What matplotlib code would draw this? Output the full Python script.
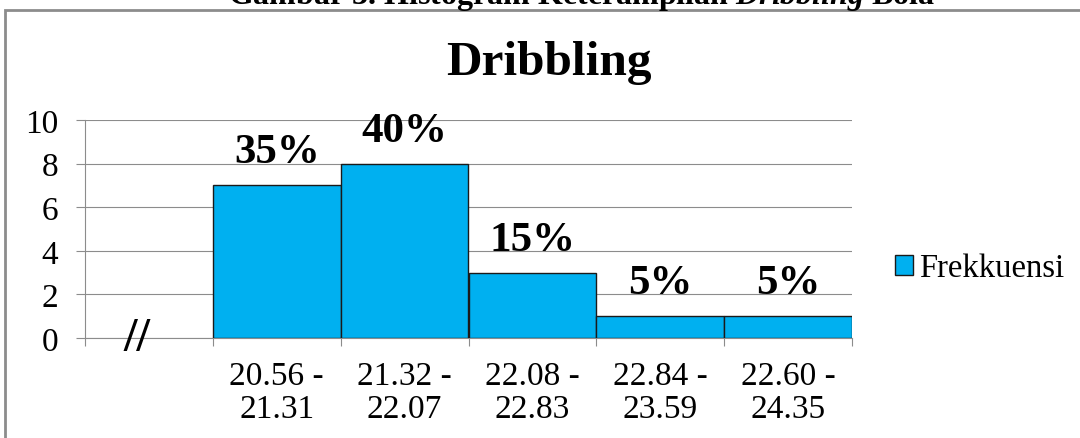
import matplotlib
matplotlib.use("Agg")
import matplotlib.pyplot as plt
import matplotlib.patches as patches
import numpy as np

plt.rcParams['font.family'] = ['Liberation Serif', 'DejaVu Serif']
plt.rcParams['mathtext.fontset'] = 'custom'
plt.rcParams['mathtext.it'] = 'Liberation Serif:bold:italic'
plt.rcParams['mathtext.rm'] = 'Liberation Serif:bold'

# data
categories = ["", "20.56 -\n21.31", "21.32 -\n22.07", "22.08 -\n22.83",
              "22.84 -\n23.59", "22.60 -\n24.35"]
frekuensi = [0, 7, 8, 3, 1, 1]
y_ticks = [0, 2, 4, 6, 8, 10]

bar_color = '#00B0F0'
grid_color = '#8c8c8c'

fig = plt.figure(figsize=(10.8, 4.39), dpi=100)
ax = fig.add_axes([85 / 1080, 1 - 339 / 439, (852 - 85) / 1080, (339 - 121) / 439])

x = np.arange(len(categories))
total = sum(frekuensi)
bars = ax.bar(x[1:], frekuensi[1:], width=1.0, color=bar_color,
              edgecolor='#1a1a1a', linewidth=1, label='Frekkuensi', zorder=3)

for xi, v in zip(x[1:], frekuensi[1:]):
    ax.annotate(f"{round(v / total * 100)}%", (xi, v), xytext=(0, 14),
                textcoords='offset pixels', ha='center', va='bottom',
                fontsize=31, fontweight='bold')

# axis break mark in the empty slot
ax.text(-0.09, 0, "//", ha='center', va='center', fontsize=35,
        fontweight='bold', clip_on=False, zorder=4)

ax.set_xlim(-0.5, len(categories) - 0.5)
ax.set_ylim(0, 10)
ax.set_yticks(y_ticks)
ax.set_yticklabels([str(t) for t in y_ticks], fontsize=24)
ax.set_xticks(x[1:])
ax.set_xticklabels(categories[1:], fontsize=24, linespacing=1.12)
ax.set_xticks(np.arange(-0.5, len(categories)), minor=True)
ax.tick_params(axis='x', which='major', length=0, pad=16)
ax.tick_params(axis='x', which='minor', length=5.8, color=grid_color, width=0.8)
ax.tick_params(axis='y', length=6.5, color=grid_color, width=0.8, pad=13)

ax.grid(axis='y', color=grid_color, linewidth=0.8, zorder=0)
for s in ['top', 'right']:
    ax.spines[s].set_visible(False)
for s in ['left', 'bottom']:
    ax.spines[s].set_color(grid_color)
    ax.spines[s].set_linewidth(0.8)

ax.set_title("Dribbling", fontsize=35.5, fontweight='bold', pad=0,
             x=(549 - 85) / (852 - 85), y=1 + (121 - 75) / (339 - 121), va='baseline')

fig.legend(handles=[bars], labels=['Frekkuensi'], loc='center left',
           bbox_to_anchor=(895 / 1080, 1 - 269 / 439), frameon=False,
           borderpad=0, borderaxespad=0,
           fontsize=23.5, handlelength=0.55, handleheight=0.55, handletextpad=0.2)

# outer chart border
border = patches.Rectangle((5 / 1080, -0.1), 1.2, 1.1 - 11 / 439,
                           transform=fig.transFigure, fill=False,
                           edgecolor=grid_color, linewidth=2, clip_on=False)
fig.patches.append(border)

fig.text(582 / 1080, 1 - 4 / 439, r"Gambar 3. Histogram Keterampilan $\mathit{Dribbling}$ Bola",
         ha='center', va='baseline', fontsize=23, fontweight='bold')

fig.savefig("out.png", dpi=100)
